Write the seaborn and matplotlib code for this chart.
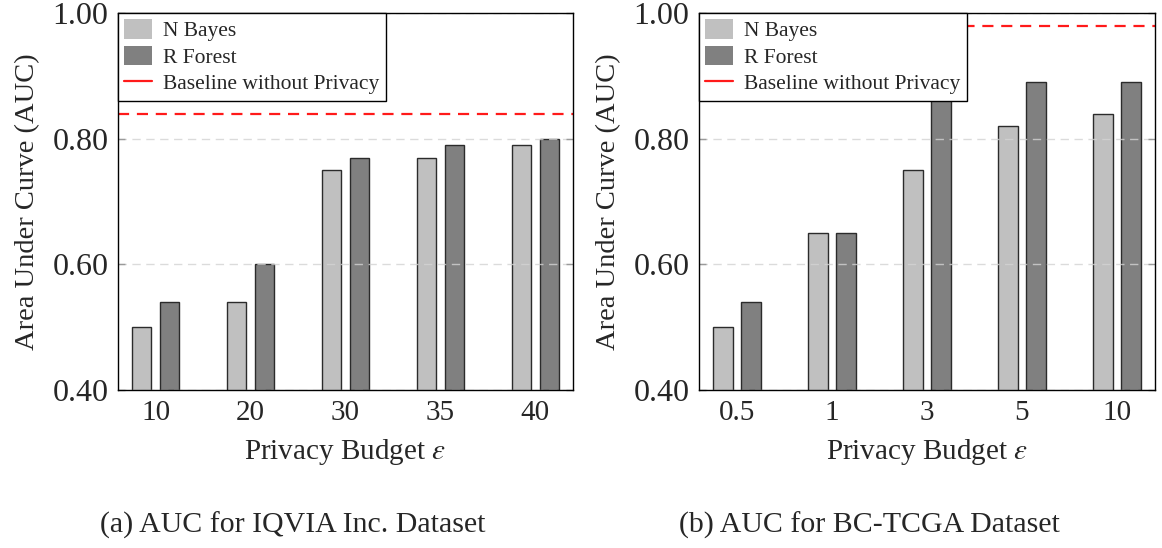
import numpy as np
import pandas as pd
import matplotlib
matplotlib.use("Agg")
import matplotlib.pyplot as plt
from matplotlib.patches import Patch
from matplotlib.lines import Line2D
import seaborn as sns

# ---- data ----
budgets_a = ["10", "20", "30", "35", "40"]
nbayes_a = [0.50, 0.54, 0.75, 0.77, 0.79]
rforest_a = [0.54, 0.60, 0.77, 0.79, 0.80]
baseline_a = 0.84

budgets_b = ["0.5", "1", "3", "5", "10"]
nbayes_b = [0.50, 0.65, 0.75, 0.82, 0.84]
rforest_b = [0.54, 0.65, 0.87, 0.89, 0.89]
baseline_b = 0.98

series_names = ["N Bayes", "R Forest"]
captions = ["(a) AUC for IQVIA Inc. Dataset", "(b) AUC for BC-TCGA Dataset"]

# ---- style ----
sns.set_theme(style="white")
plt.rcParams["font.family"] = ["Liberation Serif", "DejaVu Serif"]
plt.rcParams["mathtext.fontset"] = "stix"

light_gray = "#c0c0c0"
dark_gray = "#808080"
palette = {series_names[0]: light_gray, series_names[1]: dark_gray}

fig = plt.figure(figsize=(11.62, 5.48), dpi=100)
W, H = 1162, 548
ax_a = fig.add_axes([118 / W, (548 - 390) / H, 455 / W, 377 / H])
ax_b = fig.add_axes([699 / W, (548 - 390) / H, 456 / W, 377 / H])


def long_frame(budgets, nb, rf):
    return pd.DataFrame({
        "budget": budgets * 2,
        "auc": list(nb) + list(rf),
        "model": [series_names[0]] * len(budgets) + [series_names[1]] * len(budgets),
    })


panels = [
    (ax_a, budgets_a, nbayes_a, rforest_a, baseline_a),
    (ax_b, budgets_b, nbayes_b, rforest_b, baseline_b),
]

for ax, budgets, nb, rf, base in panels:
    df = long_frame(budgets, nb, rf)
    sns.barplot(data=df, x="budget", y="auc", hue="model", order=budgets,
                hue_order=series_names, palette=palette, width=0.59, gap=0.32,
                edgecolor="#2b2b2b", linewidth=1.0, saturation=1.0,
                legend=False, ax=ax, zorder=2)
    ax.axhline(base, color="#ff1a1a", lw=1.6, ls=(0, (5, 3.5)), zorder=3)

    ax.set_ylim(0.40, 1.00)
    ax.set_xlim(-0.4, len(budgets) - 1 + 0.4)
    ax.set_yticks([0.40, 0.60, 0.80, 1.00])
    ax.set_yticklabels(["0.40", "0.60", "0.80", "1.00"])
    ax.yaxis.grid(True, color="#d3d3d3", ls=(0, (6, 4)), lw=1.0, alpha=0.8, zorder=2.5)
    ax.set_axisbelow(False)
    ax.tick_params(axis="y", direction="in", length=5, width=1.0, color="#9a9a9a",
                   left=True, right=True, labelsize=23, pad=7)
    ax.tick_params(axis="x", length=0, labelsize=21, pad=7)
    for sp in ax.spines.values():
        sp.set_color("black")
        sp.set_linewidth(1.0)
        sp.set_zorder(5)

    ax.set_xlabel(r"Privacy Budget $\varepsilon$", fontsize=21, labelpad=8)
    ax.set_ylabel("Area Under Curve (AUC)", fontsize=20.5, labelpad=9)

    handles = [
        Patch(facecolor=light_gray, edgecolor="none", label=series_names[0]),
        Patch(facecolor=dark_gray, edgecolor="none", label=series_names[1]),
        Line2D([0], [0], color="#ff1a1a", lw=1.6, label="Baseline without Privacy"),
    ]
    leg = ax.legend(handles=handles, loc="upper left", borderaxespad=0,
                    fontsize=15.5, frameon=True, fancybox=False, framealpha=1,
                    edgecolor="black", handlelength=1.3, handleheight=1.0,
                    handletextpad=0.5, labelspacing=0.2, borderpad=0.3)
    leg.get_frame().set_linewidth(1.0)
    leg.set_zorder(10)

fig.text(293 / W, 1 - 525 / H, captions[0], ha="center", va="center", fontsize=21.5)
fig.text(869 / W, 1 - 525 / H, captions[1], ha="center", va="center", fontsize=21.5)

fig.savefig("out.png", dpi=100)
